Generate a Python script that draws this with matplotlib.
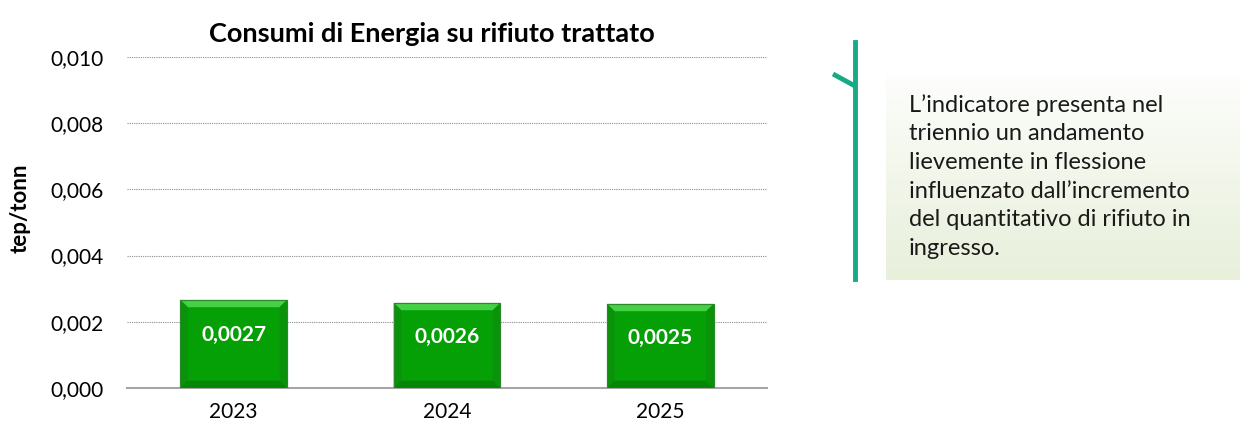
import matplotlib.pyplot as plt
import numpy as np
from matplotlib.patches import Polygon, Rectangle
from matplotlib.lines import Line2D

# --- Data ------------------------------------------------------------------
years = ["2023", "2024", "2025"]
values = [0.00266, 0.00257, 0.00254]
value_labels = ["0,0027", "0,0026", "0,0025"]
y_ticks = [0.000, 0.002, 0.004, 0.006, 0.008, 0.010]

title = "Consumi di Energia su rifiuto trattato"
y_label = "tep/tonn"
note = ("L\u2019indicatore presenta nel\n"
        "triennio un andamento\n"
        "lievemente in flessione\n"
        "influenzato dall\u2019incremento\n"
        "del quantitativo di rifiuto in\n"
        "ingresso.")

FONT = ["Lato", "DejaVu Sans"]
plt.rcParams["font.family"] = FONT

BAR_FACE = "#05a005"
BAR_EDGE = "#2a8a2a"
BEVEL_TOP = "#45d045"
BEVEL_SIDE = "#0a920a"
BEVEL_BOTTOM = "#068606"

fig = plt.figure(figsize=(12.48, 4.30), dpi=100)
ax = fig.add_axes([0.1018, 0.0977, 0.5128, 0.7698])

x = np.arange(len(years))
bars = ax.bar(x, values, width=0.5, color=BAR_FACE, edgecolor=BAR_EDGE,
              linewidth=0.8, zorder=3)

# bevel effect on each bar
for b in bars:
    x0, y0 = b.get_x(), b.get_y()
    w, h = b.get_width(), b.get_height()
    bx = w * 0.07
    by = 0.00022
    x1, y1 = x0 + w, y0 + h
    faces = [
        ([(x0, y1), (x1, y1), (x1 - bx, y1 - by), (x0 + bx, y1 - by)], BEVEL_TOP),
        ([(x0, y0), (x0, y1), (x0 + bx, y1 - by), (x0 + bx, y0 + by)], BEVEL_SIDE),
        ([(x1, y0), (x1, y1), (x1 - bx, y1 - by), (x1 - bx, y0 + by)], BEVEL_SIDE),
        ([(x0, y0), (x1, y0), (x1 - bx, y0 + by), (x0 + bx, y0 + by)], BEVEL_BOTTOM),
    ]
    for pts, col in faces:
        ax.add_patch(Polygon(pts, closed=True, color=col, lw=0, zorder=4))
    ax.add_patch(Rectangle((x0, y0), w, h, fill=False, edgecolor=BAR_EDGE,
                           lw=0.8, zorder=5))

for xi, v, lab in zip(x, values, value_labels):
    ax.text(xi, v * 0.6, lab, ha="center", va="center", color="white",
            fontsize=15, fontweight="bold", zorder=6)

ax.set_xlim(-0.5, len(years) - 0.5)
ax.set_ylim(0, 0.010)
ax.set_yticks(y_ticks)
ax.set_yticklabels([f"{t:.3f}".replace(".", ",") for t in y_ticks], fontsize=15)
ax.set_xticks(x)
ax.set_xticklabels(years, fontsize=15)
ax.tick_params(axis="x", length=0, pad=10)
ax.tick_params(axis="y", length=0, pad=17)

for t in y_ticks[1:]:
    ax.axhline(t, color="#8c8c8c", lw=0.8, ls=(0, (1, 1)), zorder=1)

for s in ["top", "right", "left"]:
    ax.spines[s].set_visible(False)
ax.spines["bottom"].set_color("#a6a6a6")
ax.spines["bottom"].set_linewidth(1.5)

ax.set_title(title, fontsize=19.5, fontweight="bold", pad=11, x=0.477)
fig.text(0.016, 0.515, y_label, rotation=90, ha="center", va="center",
         fontsize=16, fontweight="bold")

# --- side note with gradient background -----------------------------------
bx0, by0, bw, bh = 886 / 1248, 1 - 280 / 430, 354 / 1248, 208 / 430
grad_ax = fig.add_axes([bx0, by0, bw, bh])
grad = np.linspace(0, 1, 256).reshape(-1, 1)
c_top = np.array([1.0, 1.0, 1.0])
c_bot = np.array([0.91, 0.94, 0.86])
img = c_top + (c_bot - c_top) * grad[..., None] ** 0.8
grad_ax.imshow(img, aspect="auto", extent=[0, 1, 0, 1], origin="upper")
grad_ax.axis("off")

fig.text(909 / 1248, 1 - 94 / 430, note, ha="left", va="top", fontsize=17,
         color="#1a1a1a", linespacing=1.45)

teal = "#16ab84"
fig.add_artist(Line2D([855 / 1248, 855 / 1248], [1 - 42 / 430, 1 - 279 / 430],
                      color=teal, lw=3.5, transform=fig.transFigure))
fig.add_artist(Line2D([833 / 1248, 855 / 1248], [1 - 74 / 430, 1 - 86 / 430],
                      color=teal, lw=3.5, transform=fig.transFigure,
                      solid_capstyle="butt"))

fig.savefig("out.png", dpi=100)
